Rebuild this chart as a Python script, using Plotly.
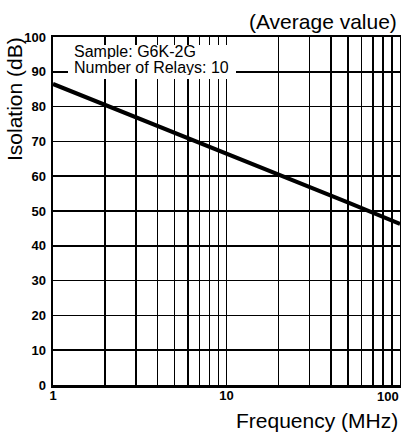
import plotly.graph_objects as go

# ---- data ----
frequency_mhz = [1, 2, 5, 10, 20, 50, 100]
isolation_db = [86.5, 80.5, 72.5, 66.5, 60.5, 52.5, 46.3]

x_tick_values = [1, 2, 3, 4, 5, 6, 7, 8, 9, 10, 20, 30, 40, 50, 60, 70, 80, 90, 100]
x_tick_labels = ["1", "", "", "", "", "", "", "", "", "10", "", "", "", "", "", "", "", "", "100"]
y_tick_values = [0, 10, 20, 30, 40, 50, 60, 70, 80, 90, 100]
y_tick_labels = ["0", "10", "20", "30", "40", "50", "60", "70", "80", "90", "100"]

x_title = "Frequency (MHz)"
y_title = "Isolation (dB)"
note_title = "(Average value)"
sample_lines = ["Sample: G6K-2G", "Number of Relays: 10"]

FONT = "Liberation Sans, Arial, Helvetica, sans-serif"

fig = go.Figure()
fig.add_trace(go.Scatter(
    x=frequency_mhz, y=isolation_db, mode="lines",
    line=dict(color="black", width=4), showlegend=False, hoverinfo="skip",
))

W, H = 401, 432
L, R, T, B = 53, 1, 37, 47
pw, ph = W - L - R, H - T - B

def px_x(x):
    return (x - L) / pw

def px_y(y):
    return (H - B - y) / ph

fig.update_layout(
    width=W, height=H, autosize=False,
    margin=dict(l=L, r=R, t=T, b=B, pad=0),
    paper_bgcolor="white", plot_bgcolor="white",
    font=dict(family=FONT, color="black"),
    showlegend=False,
)

# the last x tick label sits against the right edge, so it is drawn as an annotation
axis_x_labels = x_tick_labels[:-1] + [""]
tick_font = dict(family=FONT, size=13, color="black", weight="bold")

fig.update_xaxes(
    type="log", range=[0, 2], automargin=False,
    tickmode="array", tickvals=x_tick_values, ticktext=axis_x_labels,
    tickfont=tick_font,
    ticks="", ticklabelstandoff=-3,
    showgrid=True, gridcolor="black", gridwidth=1.5,
    showline=True, linecolor="black", linewidth=2.5, mirror=True,
    zeroline=False,
)
fig.update_yaxes(
    range=[0, 100], automargin=False,
    tickmode="array", tickvals=y_tick_values, ticktext=y_tick_labels,
    tickfont=tick_font,
    ticks="", ticklabelstandoff=2,
    showgrid=True, gridcolor="black", gridwidth=1.5,
    showline=True, linecolor="black", linewidth=2.5, mirror=True,
    zeroline=False,
)

# white box behind the sample note
fig.add_shape(type="rect", xref="paper", yref="paper",
              x0=px_x(68), x1=px_x(236), y0=px_y(79), y1=px_y(45),
              fillcolor="white", line=dict(width=0), layer="above")

anns = [
    dict(text=sample_lines[0], x=px_x(72), y=px_y(51), xanchor="left", yanchor="middle",
         font=dict(size=16), height=16),
    dict(text=sample_lines[1], x=px_x(72), y=px_y(67), xanchor="left", yanchor="middle",
         font=dict(size=16), height=16),
    dict(text=note_title, x=px_x(399), y=px_y(21), xanchor="right", yanchor="middle",
         font=dict(size=21)),
    dict(text=x_title, x=px_x(400), y=px_y(420), xanchor="right", yanchor="middle",
         font=dict(size=21)),
    dict(text=y_title, x=px_x(15), y=px_y(99), xanchor="center", yanchor="middle",
         textangle=-90, font=dict(size=21)),
    dict(text=x_tick_labels[-1], x=px_x(400), y=px_y(396), xanchor="right", yanchor="middle",
         font=dict(size=13, weight="bold"), borderpad=0),
]
for a in anns:
    a.update(xref="paper", yref="paper", showarrow=False)
    a["font"].update(family=FONT, color="black")
    fig.add_annotation(**a)

fig.write_html(
    "out.html",
    config={"displayModeBar": False, "staticPlot": True},
    post_script="document.body.style.margin='0';document.body.style.overflow='hidden';",
)
